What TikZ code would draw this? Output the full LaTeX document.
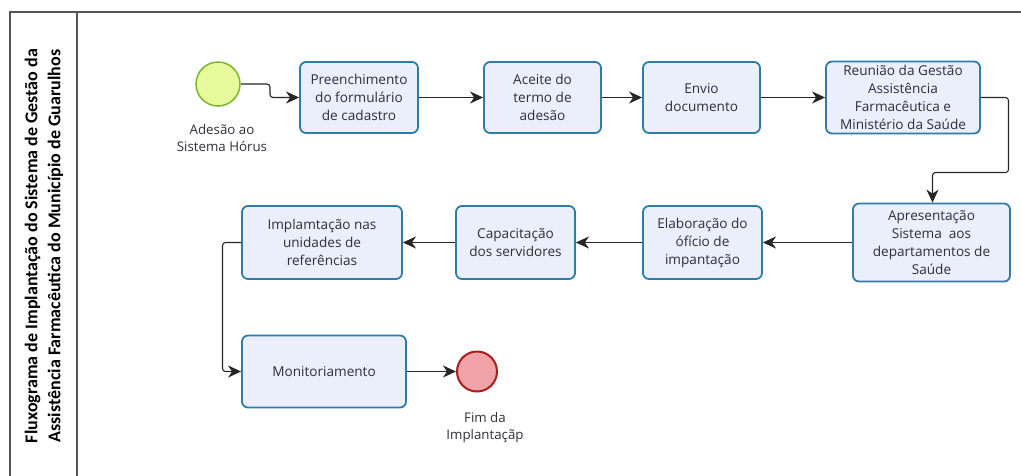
\documentclass[tikz,border=0pt]{standalone}
\usepackage{fontspec}
\setmainfont{Open Sans}
\newfontfamily\titlefont{Carlito}
\usetikzlibrary{arrows.meta}
\definecolor{boxfill}{HTML}{EBEFFC}
\definecolor{boxline}{HTML}{2E7DA6}
\definecolor{startfill}{HTML}{E6FA9C}
\definecolor{startline}{HTML}{7DB52E}
\definecolor{endfill}{HTML}{F0A3A6}
\definecolor{endline}{HTML}{A81D1D}
\definecolor{txt}{HTML}{2E2E38}
\definecolor{frame}{HTML}{555555}
\tikzset{
  taskbox/.style={draw=boxline, fill=boxfill, line width=1.8pt, rounded corners=6pt,
    align=center, text=txt, font=\fontsize{13.6}{18}\selectfont, inner sep=2pt},
  evstart/.style={circle, draw=startline, fill=startfill, line width=1.5pt, minimum size=44pt, inner sep=0pt},
  evend/.style={circle, draw=endline, fill=endfill, line width=2pt, minimum size=40pt, inner sep=0pt},
  evlabel/.style={align=center, text=txt, font=\fontsize{13.3}{17}\selectfont},
  flow/.style={draw=black!85, line width=1.1pt, -{Stealth[length=13pt,width=12pt,inset=4pt]}},
  lane/.style={draw=frame, line width=1.4pt}
}
\begin{document}
\begin{tikzpicture}[x=1pt,y=1pt]
\useasboundingbox (0,0) rectangle (1021,-475);
% frame
\draw[lane] (10,-476) -- (10,-12) -- (1022,-12);
\draw[lane] (77,-12) -- (77,-476);
\node[rotate=90, align=center, font=\titlefont\bfseries\fontsize{18}{23}\selectfont, text=black] (title) at (44,-246)
  {Fluxograma de Implantação do Sistema de Gestão da\\Assistência Farmacêutica do Município de Guarulhos};
% events
\node[evstart] (start) at (218,-84) {};
\node[evlabel] (startlab) at (222,-138) {Adesão ao\\Sistema Hórus};
\node[evend] (end) at (477,-371.5) {};
\node[evlabel] (endlab) at (485,-428) {Fim da\\Implantaçãp};
% tasks
\node[taskbox, minimum width=118pt, minimum height=71pt] (b1) at (359,-97.5) {Preenchimento\\do formulário\\de cadastro};
\node[taskbox, minimum width=117pt, minimum height=71pt] (b2) at (542.5,-97.5) {Aceite do\\termo de\\adesão};
\node[taskbox, minimum width=117pt, minimum height=71pt] (b3) at (701.5,-97.5) {Envio\\documento};
\node[taskbox, minimum width=154pt, minimum height=72pt] (b4) at (903,-97.5) {Reunião da Gestão\\Assistência\\Farmacêutica e\\Ministério da Saúde};
\node[taskbox, minimum width=157pt, minimum height=78pt] (b5) at (931.5,-242.5) {Apresentação\\Sistema~ aos\\departamentos de\\Saúde};
\node[taskbox, minimum width=119pt, minimum height=73pt] (b6) at (702.5,-242.5) {Elaboração do\\ófício de\\impantação};
\node[taskbox, minimum width=119pt, minimum height=73pt] (b7) at (515.5,-242.5) {Capacitação\\dos servidores};
\node[taskbox, minimum width=160pt, minimum height=73pt] (b8) at (322,-242.5) {Implamtação nas\\unidades de\\referências};
\node[taskbox, minimum width=164pt, minimum height=72pt] (b9) at (324,-371.5) {Monitoriamento};
% flows
\draw[flow] (start.east) [rounded corners=3pt] -- (270,-84) -- (270,-97.5) [sharp corners] -- (b1.west);
\draw[flow] (b1) -- (b2);
\draw[flow] (b2) -- (b3);
\draw[flow] (b3) -- (b4);
\draw[flow] (b4.east) [rounded corners=3pt] -- (1008.5,-97.5) -- (1008.5,-172.5) -- (932.5,-172.5) [sharp corners] -- (b5.north -| 932.5,0);
\draw[flow] (b5) -- (b6);
\draw[flow] (b6) -- (b7);
\draw[flow] (b7) -- (b8);
\draw[flow] (b8.west) [rounded corners=3pt] -- (222.5,-242.5) -- (222.5,-371.5) [sharp corners] -- (b9.west);
\draw[flow] (b9) -- (end);
\end{tikzpicture}
\end{document}
